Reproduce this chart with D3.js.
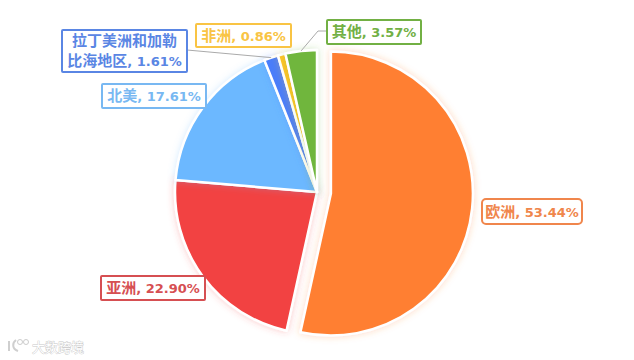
<!DOCTYPE html>
<html><head><meta charset="utf-8">
<script src="https://cdn.jsdelivr.net/npm/d3@7/dist/d3.min.js"></script>
<style>html,body{margin:0;padding:0;background:#fff}svg{display:block}
text{font-family:"DejaVu Sans","Noto Sans CJK SC",sans-serif}</style></head>
<body><svg id="c" width="634" height="360"></svg>
<script>
const regions = ["欧洲","亚洲","北美","拉丁美洲和加勒比海地区","非洲","其他"];
const labelLines = [["欧洲, 53.44%"],["亚洲, 22.90%"],["北美, 17.61%"],["拉丁美洲和加勒","比海地区, 1.61%"],["非洲, 0.86%"],["其他, 3.57%"]];
const shares = [53.44,22.90,17.61,1.61,0.86,3.57];
const colors = ["#ff7f33","#f24242","#6cb8ff","#4a7dfa","#ffc328","#6fb63c"];
const labelColors = ["#f0864c","#d64f52","#78b8f2","#5a86e4","#f9c444","#72b044"];

const svg = d3.select("#c");
const defs = svg.append("defs");
colors.forEach((c,i)=>{
  const f = defs.append("filter").attr("id","glow"+i).attr("x","-20%").attr("y","-20%").attr("width","140%").attr("height","140%");
  f.append("feDropShadow").attr("dx",0).attr("dy",0).attr("stdDeviation",3.5).attr("flood-color",c).attr("flood-opacity",0.3);
});

const cx=317, cy=192, R=142, explode=14;
const pie = d3.pie().sort(null).value(d=>d)(shares);
const arc = d3.arc().innerRadius(0).outerRadius(R);
const g = svg.append("g").attr("transform",`translate(${cx},${cy})`);
g.selectAll("path").data(pie).join("path")
 .attr("d",arc).attr("fill",(d,i)=>colors[i]).attr("stroke","#fff").attr("stroke-width",2.5)
 .attr("stroke-linejoin","round").attr("filter",(d,i)=>`url(#glow${i})`)
 .attr("transform",(d,i)=>{ if(i!==0) return null; const a=(d.startAngle+d.endAngle)/2; return `translate(${Math.sin(a)*explode},${-Math.cos(a)*explode})`;});

function edge(i,r){const a=(pie[i].startAngle+pie[i].endAngle)/2;return [Math.sin(a)*r+cx,-Math.cos(a)*r+cy];}
const line=d3.line();
svg.append("path").attr("d",line([edge(3,R),[187,50]])).attr("fill","none").attr("stroke","#aaa").attr("stroke-width",1);
svg.append("path").attr("d",line([edge(5,R),[318,31],[328,31]])).attr("fill","none").attr("stroke","#aaa").attr("stroke-width",1);

// label boxes: left, top, width, height, corner
const boxes=[[482,199,100,25,4],[101,276,104,24,1],[102,84,104,24,1],[62,30,125,42,1],[196,24,95,23,1],[327,20,94,24,1]];
const lh=20;
const isCJK=/[\u4e00-\u9fff]+|[^\u4e00-\u9fff]+/g;
boxes.forEach((b,i)=>{
  const [x,y,w,h,r]=b;
  svg.append("rect").attr("x",x).attr("y",y).attr("width",w).attr("height",h).attr("rx",r)
    .attr("fill","#fff").attr("stroke",labelColors[i]).attr("stroke-width",2);
  const n=labelLines[i].length;
  labelLines[i].forEach((ln,k)=>{
    const t=svg.append("text").attr("x",x+w/2).attr("y",y+h/2-(n-1)*lh/2+k*lh+5).attr("text-anchor","middle")
      .attr("fill",labelColors[i]).attr("font-weight","bold");
    t.selectAll("tspan").data(ln.match(isCJK)).join("tspan")
      .attr("font-size",d=>/[\u4e00-\u9fff]/.test(d)?15:13).text(d=>d);
  });
});

// watermark
const wm=svg.append("g");
wm.append("text").attr("x",32).attr("y",352).attr("font-size",13).attr("fill","#fff")
  .attr("stroke","#c8c8c8").attr("stroke-width",0.8).attr("paint-order","stroke").text("大数跨境");
wm.append("path").attr("d","M9 341V351M16 340C12 343 12 349 18 351").attr("fill","none").attr("stroke","#cfcfcf").attr("stroke-width",2);
wm.append("circle").attr("cx",20).attr("cy",342).attr("r",2.5).attr("fill","none").attr("stroke","#ccc");
wm.append("circle").attr("cx",26).attr("cy",342).attr("r",2.5).attr("fill","none").attr("stroke","#ccc");
</script></body></html>
